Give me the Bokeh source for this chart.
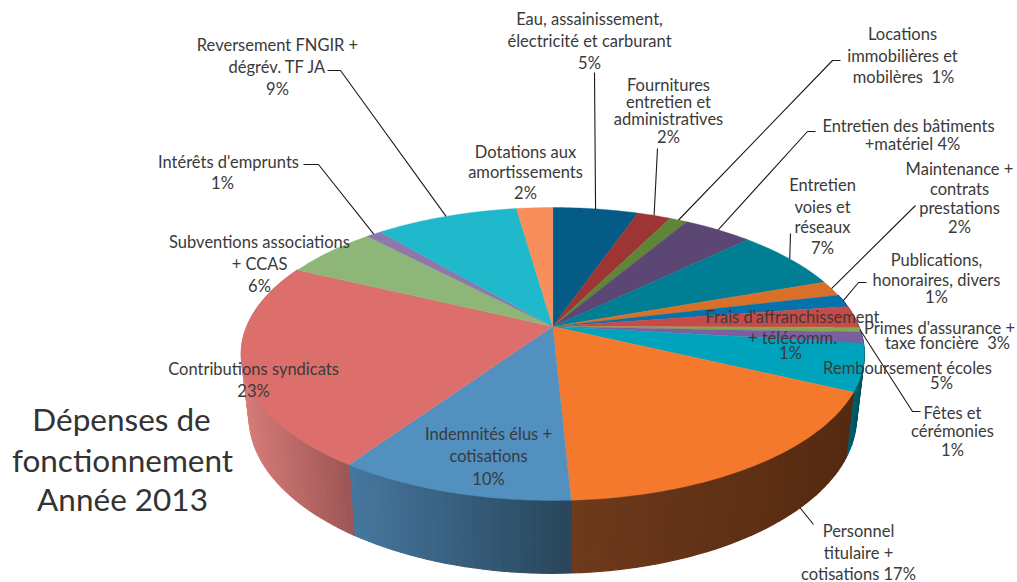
import math
from bokeh.plotting import figure
from bokeh.models import Range1d
from bokeh.core.properties import value
from bokeh.embed import file_html
from bokeh.resources import INLINE

# ---- data (shares, clockwise from 12 o'clock) ----
categories = ["Eau", "Fournitures", "Locations", "Batiments", "Voies", "Maintenance",
              "Publications", "Primes", "Frais", "Fetes", "Remboursement", "Personnel",
              "Indemnites", "Contributions", "Subventions", "Interets", "Reversement", "Dotations"]
shares = [5.3, 2.1, 1.1, 4.3, 6.8, 1.7, 1.4, 2.4, 0.55, 1.2, 5.2, 17.2, 10.3, 22.6, 5.8, 0.95, 8.9, 2.25]

# ---- styles ----
top_colors = ["#045C86", "#9C3533", "#5E8538", "#5C4673", "#007E93", "#D9702A", "#0672AC", "#C84A48", "#85A84F",
              "#7B5FA0", "#00A3BC", "#F5792D", "#5290C0", "#DC6F6C", "#8DB678", "#8C78AB", "#20B9CB", "#F78E5B"]
side_ramps = {"Publications": ("#033F5F", "#033F5F"), "Primes": ("#6E2827", "#6E2827"),
              "Frais": ("#4E6330", "#4E6330"), "Fetes": ("#453660", "#453660"),
              "Remboursement": ("#00606F", "#004E5C"),
              "Personnel": ("#6E3A1C", "#552A10"),
              "Indemnites": ("#47779F", "#28455A"),
              "Contributions": ("#B86866", "#9C5656")}

# ---- projection of the disc ----
CX, CY, A, B, K = 552.3, 326.0, 306.0, 141.3, 0.1877


def rim_top(theta):
    u, v = math.sin(theta), -math.cos(theta)
    w = 1 - K * v
    return CX + A * u / w, CY + B * v / w


def rim_bottom(theta):
    x, y = rim_top(theta)
    return CX + 0.975 * (x - CX), CY + 61 + 1.068 * (y - CY)


total = sum(shares)
edges = [0.0]
for s in shares:
    edges.append(edges[-1] + s / total * 2 * math.pi)

p = figure(width=1017, height=582, output_backend="svg", toolbar_location=None,
           x_range=Range1d(0, 1017), y_range=Range1d(582, 0), min_border=0)
p.axis.visible = False
p.grid.visible = False
p.outline_line_color = None


def mix(c1, c2, t):
    a = [int(c1[i:i + 2], 16) for i in (1, 3, 5)]
    b = [int(c2[i:i + 2], 16) for i in (1, 3, 5)]
    return "#%02x%02x%02x" % tuple(round(a[i] + (b[i] - a[i]) * t) for i in range(3))


# sides
xs, ys, cs = [], [], []
for i, name in enumerate(categories):
    if name not in side_ramps:
        continue
    t0, t1 = edges[i], edges[i + 1]
    x0, x1 = rim_top(t0)[0], rim_top(t1)[0]
    lo, hi = min(x0, x1), max(x0, x1)
    n = max(3, int((t1 - t0) / math.radians(1.5)))
    for j in range(n):
        a, b = t0 + (t1 - t0) * j / n, t0 + (t1 - t0) * (j + 1) / n
        ta, tb = rim_top(a), rim_top(b)
        ba, bb = rim_bottom(a), rim_bottom(b)
        xs.append([ta[0], tb[0], bb[0], ba[0]])
        ys.append([ta[1], tb[1], bb[1], ba[1]])
        f = (0.5 * (ta[0] + tb[0]) - lo) / max(hi - lo, 1)
        cs.append(mix(side_ramps[name][0], side_ramps[name][1], f))
p.patches(xs, ys, fill_color=cs, line_color=cs, line_width=1.2)

# top face
xs, ys = [], []
for i in range(len(shares)):
    n = max(3, int((edges[i + 1] - edges[i]) / math.radians(1)))
    pts = [rim_top(edges[i] + (edges[i + 1] - edges[i]) * j / n) for j in range(n + 1)]
    xs.append([CX] + [q[0] for q in pts])
    ys.append([CY] + [q[1] for q in pts])
p.patches(xs, ys, fill_color=top_colors, line_color=top_colors, line_width=0.4)

# leaders: slice, position inside the slice, rim, then the way to the label
leaders = [
    ("Eau", 0.5, "top", [(594, 72)]),
    ("Fournitures", 0.5, "top", [(657, 148)]),
    ("Locations", 0.5, "top", [(832, 60), (840, 60)]),
    ("Batiments", 0.5, "top", [(807, 131), (815, 131)]),
    ("Voies", 0.5, "top", [(790, 233)]),
    ("Maintenance", 0.5, "top", [(915, 205)]),
    ("Publications", 0.5, "top", [(858, 282), (866, 282)]),
    ("Frais", 0.5, "top", [(912, 411), (920, 411)]),
    ("Personnel", 0.3, "bottom", [(813, 524)]),
    ("Interets", 0.5, "top", [(318, 164), (303, 164)]),
    ("Reversement", 0.5, "top", [(340, 70), (327, 70)]),
]
for name, frac, rim, path in leaders:
    i = categories.index(name)
    th = edges[i] + (edges[i + 1] - edges[i]) * frac
    s = rim_top(th) if rim == "top" else rim_bottom(th)
    p.line([s[0]] + [q[0] for q in path], [s[1]] + [q[1] for q in path], line_color="#1a1a1a", line_width=1.1)

# labels
FONT = "Lato"
labels = [
    ("Eau, assainissement,", 589, 18), ("électricité et carburant", 589, 40), ("5%", 589, 62),
    ("Fournitures", 668, 84), ("entretien et", 668, 101), ("administratives", 668, 118), ("2%", 668, 136),
    ("Locations", 902, 33), ("immobilières et", 902, 55), ("mobilères\u00a0\u00a01%", 903, 76),
    ("Entretien des bâtiments", 908, 125), ("+matériel 4%", 912, 143),
    ("Entretien", 822, 184), ("voies et", 822, 206), ("réseaux", 822, 226), ("7%", 822, 247),
    ("Maintenance +", 959, 168), ("contrats", 959, 188), ("prestations", 959, 207), ("2%", 959, 226),
    ("Publications,", 936, 259), ("honoraires, divers", 936, 279), ("1%", 936, 296),
    ("Frais d'affranchissement", 792, 316), ("+ télécomm.", 792, 337), ("1%", 790, 352),
    ("Primes d'assurance +", 939, 327), ("taxe foncière\u00a0\u00a03%", 947, 342),
    ("Remboursement écoles", 907, 367), ("5%", 941, 382),
    ("Fêtes et", 952, 412), ("cérémonies", 952, 430), ("1%", 952, 449),
    ("Personnel", 858, 530), ("titulaire +", 858, 552), ("cotisations 17%", 858, 573),
    ("Indemnités élus +", 488, 433), ("cotisations", 488, 455), ("10%", 488, 478),
    ("Contributions syndicats", 253, 368), ("23%", 253, 390),
    ("Subventions associations", 259, 241), ("+ CCAS", 259, 263), ("6%", 259, 285),
    ("Intérêts d'emprunts", 228, 161), ("1%", 222, 182),
    ("Reversement FNGIR +", 277, 44), ("dégrév. TF JA", 277, 66), ("9%", 277, 88),
    ("Dotations aux", 525, 151), ("amortissements", 525, 171), ("2%", 525, 192),
]
p.text([l[1] for l in labels], [l[2] for l in labels], text=[l[0] for l in labels],
       text_font=value(FONT), text_font_size="16.5px", text_color="#3a3a3a",
       text_align="center", text_baseline="middle")

title_lines = [("Dépenses de", 121, 418), ("fonctionnement", 122, 459), ("Année 2013", 122, 498)]
p.text([l[1] for l in title_lines], [l[2] for l in title_lines], text=[l[0] for l in title_lines],
       text_font=value(FONT), text_font_size="31.5px", text_color="#333333",
       text_align="center", text_baseline="middle")

open("out.html", "w").write(file_html(p, INLINE))
